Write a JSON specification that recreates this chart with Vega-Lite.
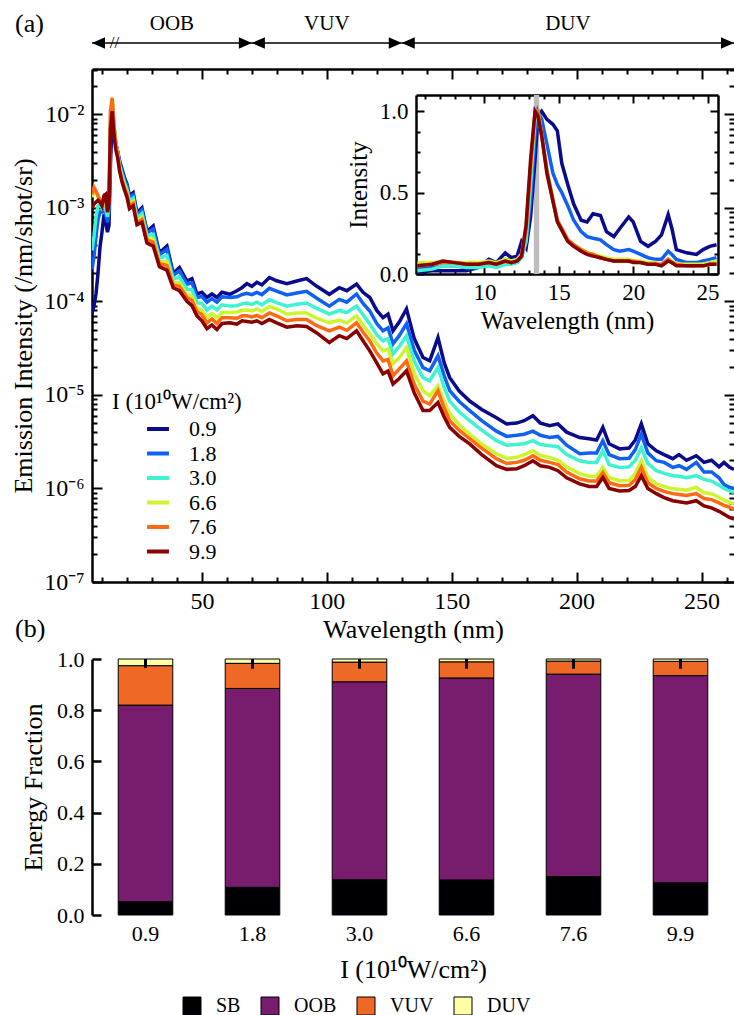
{
"$schema": "https://vega.github.io/schema/vega-lite/v6.json",
"padding": {"left": 10, "top": 11, "right": 0, "bottom": 3},
"config": {
 "font": "Liberation Serif",
 "view": {"stroke": null},
 "axis": {"grid": false, "domainColor": "black", "tickColor": "black", "labelColor": "black", "titleColor": "black", "titleFontWeight": "normal", "domainWidth": 2.5, "tickWidth": 2, "labelFontSize": 24, "titleFontSize": 26},
 "legend": {"labelColor": "black", "titleColor": "black", "titleFontWeight": "normal"},
 "title": {"color": "black", "fontWeight": "normal"}
},
"datasets": {
 "main": [
  {"w":6.0,"a":7.5e-5,"b":2.2e-4,"c":3.5e-4,"d":1.3e-3,"e":1.4e-3,"f":1.0e-3},
  {"w":6.8,"a":9.0e-5,"b":3.0e-4,"c":5.0e-4,"d":1.5e-3,"e":1.65e-3,"f":1.1e-3},
  {"w":7.6,"a":1.2e-4,"b":5.0e-4,"c":8.0e-4,"d":1.45e-3,"e":1.5e-3,"f":1.15e-3},
  {"w":8.4,"a":2.0e-4,"b":7.5e-4,"c":1.05e-3,"d":1.3e-3,"e":1.35e-3,"f":1.2e-3},
  {"w":9.2,"a":3.8e-4,"b":9.0e-4,"c":1.1e-3,"d":1.2e-3,"e":1.2e-3,"f":1.15e-3},
  {"w":10.0,"a":5.5e-4,"b":9.0e-4,"c":1.0e-3,"d":1.1e-3,"e":1.1e-3,"f":1.05e-3},
  {"w":10.8,"a":8.5e-4,"b":1.0e-3,"c":1.1e-3,"d":1.2e-3,"e":1.3e-3,"f":1.35e-3},
  {"w":11.5,"a":7.0e-4,"b":8.5e-4,"c":9.5e-4,"d":1.1e-3,"e":1.2e-3,"f":1.4e-3},
  {"w":12.2,"a":5.5e-4,"b":7.0e-4,"c":8.0e-4,"d":9.0e-4,"e":9.0e-4,"f":9.0e-4},
  {"w":12.8,"a":6.5e-4,"b":9.0e-4,"c":1.1e-3,"d":1.3e-3,"e":1.3e-3,"f":1.1e-3},
  {"w":13.4,"a":3.0e-3,"b":5.5e-3,"c":8.0e-3,"d":1.0e-2,"e":1.1e-2,"f":7.0e-3},
  {"w":14.1,"a":9.0e-3,"b":1.2e-2,"c":1.4e-2,"d":1.45e-2,"e":1.5e-2,"f":1.08e-2},
  {"w":14.8,"a":6.5e-3,"b":7.5e-3,"c":7.5e-3,"d":7.5e-3,"e":7.5e-3,"f":6.0e-3},
  {"w":15.5,"a":4.8e-3,"b":5.0e-3,"c":4.9e-3,"d":4.8e-3,"e":4.7e-3,"f":4.2e-3},
  {"w":16.3,"a":4.0e-3,"b":3.9e-3,"c":3.8e-3,"d":3.7e-3,"e":3.6e-3,"f":3.4e-3},
  {"w":17.0,"a":3.2e-3,"b":3.08e-3,"c":2.9e-3,"d":2.7e-3,"e":2.6e-3,"f":2.5e-3},
  {"w":18.0,"a":2.6e-3,"b":2.48e-3,"c":2.29e-3,"d":2.1e-3,"e":2.0e-3,"f":1.9e-3},
  {"w":19.0,"a":2.1e-3,"b":2.0e-3,"c":1.85e-3,"d":1.73e-3,"e":1.65e-3,"f":1.55e-3},
  {"w":20.0,"a":1.8e-3,"b":1.71e-3,"c":1.58e-3,"d":1.46e-3,"e":1.39e-3,"f":1.3e-3},
  {"w":21.0,"a":1.35e-3,"b":1.29e-3,"c":1.18e-3,"d":1.09e-3,"e":1.04e-3,"f":9.8e-4},
  {"w":22.5,"a":1.45e-3,"b":1.38e-3,"c":1.27e-3,"d":1.17e-3,"e":1.11e-3,"f":1.05e-3},
  {"w":24.0,"a":8.8e-4,"b":8.4e-4,"c":7.8e-4,"d":7.2e-4,"e":6.9e-4,"f":6.6e-4},
  {"w":26.0,"a":1.0e-3,"b":9.5e-4,"c":8.7e-4,"d":7.9e-4,"e":7.5e-4,"f":7.0e-4},
  {"w":28.0,"a":5.6e-4,"b":5.4e-4,"c":5.0e-4,"d":4.7e-4,"e":4.5e-4,"f":4.2e-4},
  {"w":30.5,"a":6.4e-4,"b":5.9e-4,"c":5.2e-4,"d":4.6e-4,"e":4.3e-4,"f":3.9e-4},
  {"w":33.0,"a":3.3e-4,"b":3.14e-4,"c":2.88e-4,"d":2.65e-4,"e":2.52e-4,"f":2.35e-4},
  {"w":36.0,"a":3.9e-4,"b":3.6e-4,"c":3.1e-4,"d":2.65e-4,"e":2.42e-4,"f":2.15e-4},
  {"w":38.5,"a":2.0e-4,"b":1.9e-4,"c":1.73e-4,"d":1.58e-4,"e":1.5e-4,"f":1.4e-4},
  {"w":41.0,"a":2.3e-4,"b":2.12e-4,"c":1.83e-4,"d":1.58e-4,"e":1.45e-4,"f":1.3e-4},
  {"w":44.0,"a":1.65e-4,"b":1.53e-4,"c":1.35e-4,"d":1.19e-4,"e":1.1e-4,"f":1.0e-4},
  {"w":46.0,"a":1.75e-4,"b":1.58e-4,"c":1.34e-4,"d":1.13e-4,"e":1.03e-4,"f":9.0e-5},
  {"w":48.0,"a":1.2e-4,"b":1.1e-4,"c":9.7e-5,"d":8.5e-5,"e":7.8e-5,"f":7.0e-5},
  {"w":50.0,"a":1.25e-4,"b":1.13e-4,"c":9.5e-5,"d":8.0e-5,"e":7.2e-5,"f":6.2e-5},
  {"w":52.0,"a":1.1e-4,"b":9.8e-5,"c":8.1e-5,"d":6.7e-5,"e":5.9e-5,"f":5.1e-5},
  {"w":54.0,"a":1.2e-4,"b":1.07e-4,"c":8.9e-5,"d":7.4e-5,"e":6.5e-5,"f":5.6e-5},
  {"w":56.0,"a":1.1e-4,"b":9.8e-5,"c":8.1e-5,"d":6.7e-5,"e":5.8e-5,"f":5.0e-5},
  {"w":58.0,"a":1.25e-4,"b":1.12e-4,"c":9.2e-5,"d":7.6e-5,"e":6.7e-5,"f":5.8e-5},
  {"w":61.2,"a":1.19e-4,"b":1.1e-4,"c":8.9e-5,"d":7.6e-5,"e":6.7e-5,"f":5.9e-5},
  {"w":64.0,"a":1.3e-4,"b":1.12e-4,"c":9.0e-5,"d":7.7e-5,"e":6.6e-5,"f":5.7e-5},
  {"w":66.0,"a":1.4e-4,"b":1.18e-4,"c":9.4e-5,"d":8.0e-5,"e":7.0e-5,"f":6.2e-5},
  {"w":68.0,"a":1.55e-4,"b":1.22e-4,"c":9.6e-5,"d":8.1e-5,"e":7.0e-5,"f":6.1e-5},
  {"w":70.0,"a":1.45e-4,"b":1.18e-4,"c":9.3e-5,"d":7.9e-5,"e":6.8e-5,"f":6.0e-5},
  {"w":72.0,"a":1.6e-4,"b":1.25e-4,"c":9.8e-5,"d":8.3e-5,"e":7.1e-5,"f":6.2e-5},
  {"w":74.0,"a":1.5e-4,"b":1.18e-4,"c":9.2e-5,"d":7.8e-5,"e":6.7e-5,"f":5.8e-5},
  {"w":77.0,"a":1.8e-4,"b":1.38e-4,"c":1.04e-4,"d":8.8e-5,"e":7.5e-5,"f":6.4e-5},
  {"w":79.9,"a":1.66e-4,"b":1.29e-4,"c":9.7e-5,"d":8.3e-5,"e":7.0e-5,"f":5.9e-5},
  {"w":84.0,"a":1.55e-4,"b":1.17e-4,"c":8.9e-5,"d":7.3e-5,"e":6.2e-5,"f":5.3e-5},
  {"w":88.0,"a":1.65e-4,"b":1.23e-4,"c":9.3e-5,"d":7.5e-5,"e":6.4e-5,"f":5.5e-5},
  {"w":91.9,"a":1.75e-4,"b":1.28e-4,"c":9.6e-5,"d":7.5e-5,"e":6.4e-5,"f":5.4e-5},
  {"w":96.0,"a":1.45e-4,"b":1.08e-4,"c":8.4e-5,"d":6.6e-5,"e":5.5e-5,"f":4.6e-5},
  {"w":101.0,"a":1.19e-4,"b":8.9e-5,"c":7.3e-5,"d":5.9e-5,"e":4.84e-5,"f":3.63e-5},
  {"w":105.0,"a":1.4e-4,"b":1.05e-4,"c":8.0e-5,"d":6.3e-5,"e":5.3e-5,"f":4.3e-5},
  {"w":108.0,"a":1.3e-4,"b":9.8e-5,"c":7.6e-5,"d":5.9e-5,"e":4.9e-5,"f":4.0e-5},
  {"w":111.9,"a":1.53e-4,"b":1.2e-4,"c":8.9e-5,"d":7.0e-5,"e":5.9e-5,"f":4.84e-5},
  {"w":114.5,"a":1.25e-4,"b":9.5e-5,"c":7.2e-5,"d":5.6e-5,"e":4.7e-5,"f":3.8e-5},
  {"w":117.2,"a":1.1e-4,"b":7.9e-5,"c":5.75e-5,"d":4.5e-5,"e":3.78e-5,"f":2.96e-5},
  {"w":120.0,"a":8.0e-5,"b":5.8e-5,"c":4.4e-5,"d":3.5e-5,"e":2.8e-5,"f":2.2e-5},
  {"w":122.5,"a":6.7e-5,"b":4.84e-5,"c":3.78e-5,"d":2.96e-5,"e":2.31e-5,"f":1.68e-5},
  {"w":124.5,"a":7.3e-5,"b":5.2e-5,"c":4.0e-5,"d":3.1e-5,"e":2.4e-5,"f":1.8e-5},
  {"w":126.5,"a":4.84e-5,"b":3.52e-5,"c":2.75e-5,"d":2.15e-5,"e":1.6e-5,"f":1.31e-5},
  {"w":129.0,"a":6.0e-5,"b":4.3e-5,"c":3.3e-5,"d":2.5e-5,"e":1.9e-5,"f":1.5e-5},
  {"w":131.9,"a":8.3e-5,"b":5.75e-5,"c":4.28e-5,"d":3.21e-5,"e":2.31e-5,"f":1.81e-5},
  {"w":135.0,"a":4.0e-5,"b":3.0e-5,"c":2.3e-5,"d":1.7e-5,"e":1.3e-5,"f":1.05e-5},
  {"w":138.5,"a":2.51e-5,"b":1.96e-5,"c":1.53e-5,"d":1.11e-5,"e":8.6e-6,"f":6.8e-6},
  {"w":141.2,"a":2.31e-5,"b":1.81e-5,"c":1.42e-5,"d":9.8e-6,"e":8.0e-6,"f":6.8e-6},
  {"w":144.5,"a":4.1e-5,"b":2.62e-5,"c":1.96e-5,"d":1.25e-5,"e":1.11e-5,"f":8.3e-6},
  {"w":147.0,"a":2.2e-5,"b":1.6e-5,"c":1.2e-5,"d":8.5e-6,"e":7.2e-6,"f":5.8e-6},
  {"w":149.2,"a":1.53e-5,"b":1.11e-5,"c":8.6e-6,"d":6.3e-6,"e":5.3e-6,"f":4.5e-6},
  {"w":153.0,"a":1.1e-5,"b":8.5e-6,"c":6.6e-6,"d":4.8e-6,"e":4.2e-6,"f":3.6e-6},
  {"w":157.2,"a":8.6e-6,"b":6.8e-6,"c":5.3e-6,"d":3.8e-6,"e":3.4e-6,"f":3.0e-6},
  {"w":162.0,"a":7.0e-6,"b":5.3e-6,"c":4.2e-6,"d":3.0e-6,"e":2.7e-6,"f":2.3e-6},
  {"w":167.9,"a":5.7e-6,"b":4.1e-6,"c":3.24e-6,"d":2.35e-6,"e":2.08e-6,"f":1.75e-6},
  {"w":172.0,"a":4.9e-6,"b":3.6e-6,"c":2.9e-6,"d":2.1e-6,"e":1.85e-6,"f":1.6e-6},
  {"w":176.0,"a":5.0e-6,"b":3.7e-6,"c":2.95e-6,"d":2.15e-6,"e":1.9e-6,"f":1.62e-6},
  {"w":179.0,"a":5.3e-6,"b":3.8e-6,"c":3.0e-6,"d":2.3e-6,"e":2.0e-6,"f":1.75e-6},
  {"w":182.5,"a":6.0e-6,"b":4.1e-6,"c":3.24e-6,"d":2.53e-6,"e":2.24e-6,"f":1.98e-6},
  {"w":185.5,"a":5.0e-6,"b":3.7e-6,"c":2.95e-6,"d":2.25e-6,"e":2.0e-6,"f":1.75e-6},
  {"w":189.2,"a":4.7e-6,"b":3.5e-6,"c":2.86e-6,"d":2.14e-6,"e":1.9e-6,"f":1.68e-6},
  {"w":192.5,"a":4.9e-6,"b":3.6e-6,"c":2.8e-6,"d":2.0e-6,"e":1.8e-6,"f":1.55e-6},
  {"w":196.0,"a":4.0e-6,"b":2.9e-6,"c":2.3e-6,"d":1.7e-6,"e":1.5e-6,"f":1.3e-6},
  {"w":201.2,"a":3.5e-6,"b":2.35e-6,"c":1.98e-6,"d":1.44e-6,"e":1.27e-6,"f":1.12e-6},
  {"w":205.0,"a":3.4e-6,"b":2.4e-6,"c":1.9e-6,"d":1.35e-6,"e":1.2e-6,"f":1.05e-6},
  {"w":208.0,"a":3.3e-6,"b":2.4e-6,"c":1.9e-6,"d":1.35e-6,"e":1.2e-6,"f":1.05e-6},
  {"w":210.5,"a":4.5e-6,"b":3.24e-6,"c":2.53e-6,"d":1.68e-6,"e":1.48e-6,"f":1.31e-6},
  {"w":213.0,"a":3.0e-6,"b":2.3e-6,"c":1.8e-6,"d":1.3e-6,"e":1.15e-6,"f":1.0e-6},
  {"w":217.2,"a":2.65e-6,"b":2.08e-6,"c":1.68e-6,"d":1.21e-6,"e":1.07e-6,"f":9.4e-7},
  {"w":221.0,"a":2.7e-6,"b":2.1e-6,"c":1.7e-6,"d":1.22e-6,"e":1.08e-6,"f":9.5e-7},
  {"w":223.5,"a":3.3e-6,"b":2.6e-6,"c":2.0e-6,"d":1.45e-6,"e":1.25e-6,"f":1.05e-6},
  {"w":225.9,"a":4.9e-6,"b":3.8e-6,"c":2.74e-6,"d":1.98e-6,"e":1.68e-6,"f":1.37e-6},
  {"w":228.5,"a":3.0e-6,"b":2.4e-6,"c":1.85e-6,"d":1.32e-6,"e":1.15e-6,"f":1.0e-6},
  {"w":231.9,"a":2.53e-6,"b":1.98e-6,"c":1.55e-6,"d":1.12e-6,"e":1.0e-6,"f":8.8e-7},
  {"w":235.0,"a":2.3e-6,"b":1.9e-6,"c":1.45e-6,"d":1.05e-6,"e":9.3e-7,"f":8.0e-7},
  {"w":238.5,"a":2.08e-6,"b":1.68e-6,"c":1.37e-6,"d":9.9e-7,"e":8.8e-7,"f":7.4e-7},
  {"w":241.0,"a":2.3e-6,"b":1.75e-6,"c":1.35e-6,"d":9.8e-7,"e":8.6e-7,"f":7.2e-7},
  {"w":244.0,"a":2.0e-6,"b":1.6e-6,"c":1.3e-6,"d":9.6e-7,"e":8.4e-7,"f":7.0e-7},
  {"w":247.9,"a":2.24e-6,"b":1.9e-6,"c":1.37e-6,"d":1.03e-6,"e":8.8e-7,"f":7.4e-7},
  {"w":251.0,"a":1.9e-6,"b":1.5e-6,"c":1.25e-6,"d":9.0e-7,"e":7.8e-7,"f":6.5e-7},
  {"w":254.0,"a":2.0e-6,"b":1.5e-6,"c":1.2e-6,"d":8.8e-7,"e":7.6e-7,"f":6.2e-7},
  {"w":257.0,"a":1.7e-6,"b":1.3e-6,"c":1.08e-6,"d":8.0e-7,"e":7.0e-7,"f":5.7e-7},
  {"w":259.0,"a":1.9e-6,"b":1.1e-6,"c":1.0e-6,"d":7.5e-7,"e":6.6e-7,"f":5.3e-7},
  {"w":261.2,"a":1.68e-6,"b":1.03e-6,"c":9.4e-7,"d":7.1e-7,"e":6.3e-7,"f":4.9e-7},
  {"w":263.0,"a":1.6e-6,"b":1.0e-6,"c":9.0e-7,"d":6.9e-7,"e":6.0e-7,"f":4.7e-7}
 ],
 "inset": [
  {"w":5.5,"a":0.01,"b":0.03,"c":0.02,"d":0.07,"e":0.05,"f":0.05},
  {"w":6.5,"a":0.02,"b":0.04,"c":0.03,"d":0.07,"e":0.06,"f":0.06},
  {"w":7.2,"a":0.02,"b":0.05,"c":0.05,"d":0.08,"e":0.07,"f":0.08},
  {"w":8.0,"a":0.02,"b":0.05,"c":0.05,"d":0.07,"e":0.07,"f":0.07},
  {"w":8.8,"a":0.02,"b":0.04,"c":0.04,"d":0.07,"e":0.06,"f":0.06},
  {"w":9.6,"a":0.04,"b":0.05,"c":0.04,"d":0.07,"e":0.06,"f":0.06},
  {"w":10.3,"a":0.09,"b":0.07,"c":0.05,"d":0.08,"e":0.07,"f":0.07},
  {"w":10.8,"a":0.07,"b":0.06,"c":0.04,"d":0.07,"e":0.06,"f":0.06},
  {"w":11.4,"a":0.13,"b":0.09,"c":0.06,"d":0.09,"e":0.08,"f":0.08},
  {"w":11.8,"a":0.10,"b":0.08,"c":0.06,"d":0.08,"e":0.07,"f":0.07},
  {"w":12.2,"a":0.11,"b":0.09,"c":0.07,"d":0.09,"e":0.08,"f":0.08},
  {"w":12.5,"a":0.20,"b":0.13,"c":0.10,"d":0.12,"e":0.11,"f":0.11},
  {"w":12.8,"a":0.16,"b":0.20,"c":0.20,"d":0.30,"e":0.28,"f":0.30},
  {"w":13.1,"a":0.35,"b":0.45,"c":0.55,"d":0.65,"e":0.65,"f":0.70},
  {"w":13.4,"a":0.70,"b":0.85,"c":0.95,"d":0.98,"e":0.99,"f":1.0},
  {"w":13.6,"a":0.97,"b":1.0,"c":1.0,"d":1.0,"e":1.0,"f":0.97},
  {"w":13.85,"a":1.0,"b":0.95,"c":0.85,"d":0.85,"e":0.85,"f":0.85},
  {"w":14.2,"a":0.95,"b":0.80,"c":0.65,"d":0.62,"e":0.63,"f":0.62},
  {"w":14.6,"a":0.92,"b":0.62,"c":0.45,"d":0.45,"e":0.46,"f":0.45},
  {"w":14.9,"a":0.88,"b":0.55,"c":0.33,"d":0.33,"e":0.33,"f":0.32},
  {"w":15.2,"a":0.68,"b":0.50,"c":0.27,"d":0.27,"e":0.28,"f":0.27},
  {"w":15.6,"a":0.55,"b":0.42,"c":0.21,"d":0.21,"e":0.21,"f":0.20},
  {"w":16.0,"a":0.43,"b":0.33,"c":0.18,"d":0.18,"e":0.18,"f":0.17},
  {"w":16.5,"a":0.33,"b":0.26,"c":0.15,"d":0.15,"e":0.15,"f":0.14},
  {"w":16.9,"a":0.32,"b":0.23,"c":0.13,"d":0.13,"e":0.13,"f":0.12},
  {"w":17.3,"a":0.37,"b":0.22,"c":0.12,"d":0.12,"e":0.12,"f":0.11},
  {"w":17.8,"a":0.36,"b":0.21,"c":0.10,"d":0.11,"e":0.10,"f":0.10},
  {"w":18.2,"a":0.26,"b":0.18,"c":0.09,"d":0.10,"e":0.09,"f":0.09},
  {"w":18.7,"a":0.23,"b":0.15,"c":0.08,"d":0.09,"e":0.08,"f":0.08},
  {"w":19.1,"a":0.28,"b":0.14,"c":0.08,"d":0.09,"e":0.08,"f":0.08},
  {"w":19.7,"a":0.35,"b":0.15,"c":0.08,"d":0.09,"e":0.08,"f":0.08},
  {"w":20.0,"a":0.32,"b":0.14,"c":0.08,"d":0.08,"e":0.08,"f":0.07},
  {"w":20.5,"a":0.20,"b":0.12,"c":0.07,"d":0.08,"e":0.07,"f":0.07},
  {"w":21.0,"a":0.17,"b":0.10,"c":0.06,"d":0.07,"e":0.06,"f":0.06},
  {"w":21.5,"a":0.20,"b":0.09,"c":0.06,"d":0.07,"e":0.06,"f":0.06},
  {"w":21.9,"a":0.24,"b":0.09,"c":0.06,"d":0.06,"e":0.06,"f":0.05},
  {"w":22.35,"a":0.365,"b":0.14,"c":0.09,"d":0.09,"e":0.09,"f":0.08},
  {"w":22.6,"a":0.28,"b":0.12,"c":0.08,"d":0.08,"e":0.07,"f":0.07},
  {"w":22.9,"a":0.15,"b":0.09,"c":0.06,"d":0.06,"e":0.06,"f":0.05},
  {"w":23.6,"a":0.13,"b":0.07,"c":0.05,"d":0.06,"e":0.05,"f":0.05},
  {"w":24.25,"a":0.12,"b":0.07,"c":0.05,"d":0.06,"e":0.05,"f":0.05},
  {"w":24.7,"a":0.15,"b":0.08,"c":0.06,"d":0.06,"e":0.05,"f":0.05},
  {"w":25.15,"a":0.17,"b":0.09,"c":0.07,"d":0.07,"e":0.06,"f":0.06},
  {"w":25.6,"a":0.18,"b":0.10,"c":0.08,"d":0.08,"e":0.06,"f":0.06}
 ],
 "regions": [
  {"r":"OOB","s":6,"e":70,"m":38},
  {"r":"VUV","s":70,"e":130,"m":100},
  {"r":"DUV","s":130,"e":263,"m":196.5}
 ],
 "bars": [
  {"I":"0.9","c":"SB","f":0.052,"k":1},{"I":"0.9","c":"OOB","f":0.768,"k":2},{"I":"0.9","c":"VUV","f":0.154,"k":3},{"I":"0.9","c":"DUV","f":0.026,"k":4},
  {"I":"1.8","c":"SB","f":0.108,"k":1},{"I":"1.8","c":"OOB","f":0.777,"k":2},{"I":"1.8","c":"VUV","f":0.098,"k":3},{"I":"1.8","c":"DUV","f":0.017,"k":4},
  {"I":"3.0","c":"SB","f":0.138,"k":1},{"I":"3.0","c":"OOB","f":0.773,"k":2},{"I":"3.0","c":"VUV","f":0.077,"k":3},{"I":"3.0","c":"DUV","f":0.012,"k":4},
  {"I":"6.6","c":"SB","f":0.137,"k":1},{"I":"6.6","c":"OOB","f":0.789,"k":2},{"I":"6.6","c":"VUV","f":0.063,"k":3},{"I":"6.6","c":"DUV","f":0.011,"k":4},
  {"I":"7.6","c":"SB","f":0.150,"k":1},{"I":"7.6","c":"OOB","f":0.791,"k":2},{"I":"7.6","c":"VUV","f":0.051,"k":3},{"I":"7.6","c":"DUV","f":0.008,"k":4},
  {"I":"9.9","c":"SB","f":0.126,"k":1},{"I":"9.9","c":"OOB","f":0.809,"k":2},{"I":"9.9","c":"VUV","f":0.056,"k":3},{"I":"9.9","c":"DUV","f":0.009,"k":4}
 ],
 "err": [
  {"I":"0.9","lo":0.965,"hi":1.0},{"I":"1.8","lo":0.962,"hi":1.0},{"I":"3.0","lo":0.962,"hi":1.0},
  {"I":"6.6","lo":0.962,"hi":1.0},{"I":"7.6","lo":0.962,"hi":1.0},{"I":"9.9","lo":0.962,"hi":1.0}
 ]
},
"vconcat": [
 {
  "width": 642, "height": 20,
  "title": {"text": "(a)", "anchor": "start", "frame": "group", "dx": -77, "offset": -24, "fontSize": 26, "fontWeight": "normal"},
  "data": {"name": "regions"},
  "layer": [
   {"mark": {"type": "rule", "color": "black", "strokeWidth": 1.5},
    "encoding": {"x": {"field": "s", "type": "quantitative", "scale": {"domain": [6, 263], "nice": false, "zero": false}, "axis": null}, "x2": {"field": "e"}}},
   {"mark": {"type": "point", "shape": "M0,0L-2,-0.9L-2,0.9Z", "filled": true, "color": "black", "size": 169, "opacity": 1},
    "encoding": {"x": {"field": "e", "type": "quantitative", "scale": {"domain": [6, 263], "nice": false, "zero": false}, "axis": null}}},
   {"mark": {"type": "point", "shape": "M0,0L2,-0.9L2,0.9Z", "filled": true, "color": "black", "size": 169, "opacity": 1},
    "encoding": {"x": {"field": "s", "type": "quantitative", "scale": {"domain": [6, 263], "nice": false, "zero": false}, "axis": null}}},
   {"mark": {"type": "text", "dy": -19, "fontSize": 21, "color": "black"},
    "encoding": {"x": {"field": "m", "type": "quantitative", "scale": {"domain": [6, 263], "nice": false, "zero": false}, "axis": null}, "text": {"field": "r"}}},
   {"data": {"values": [{"w": 15, "t": "//"}]},
    "mark": {"type": "text", "fontSize": 17, "color": "black"},
    "encoding": {"x": {"field": "w", "type": "quantitative", "scale": {"domain": [6, 263], "nice": false, "zero": false}, "axis": null}, "text": {"field": "t"}}}
  ]
 },
 {
  "width": 642, "height": 513,
  "layer": [
   {
    "layer": [
     {
      "data": {"name": "main"},
      "transform": [{"fold": ["a", "b", "c", "d", "e", "f"], "as": ["I", "v"]}],
      "mark": {"type": "line", "strokeWidth": 3.5, "clip": true},
      "encoding": {
       "x": {"field": "w", "type": "quantitative", "scale": {"domain": [6, 263], "nice": false, "zero": false},
             "axis": {"orient": "bottom", "values": [50, 100, 150, 200, 250], "tickSize": -10, "labelPadding": 17, "title": "Wavelength (nm)", "titlePadding": 3}},
       "y": {"field": "v", "type": "quantitative", "scale": {"type": "log", "domain": [1e-7, 0.0305], "nice": false},
             "axis": {"orient": "left", "values": [1e-7, 1e-6, 1e-5, 1e-4, 1e-3, 1e-2], "tickSize": -10, "labelPadding": 18,
                      "labelExpr": "'10⁻' + ['⁰','¹','²','³','⁴','⁵','⁶','⁷','⁸','⁹'][round(-log(datum.value)/LN10)]",
                      "title": "Emission Intensity (/nm/shot/sr)", "titlePadding": 7}},
       "color": {"field": "I", "type": "nominal",
                 "scale": {"domain": ["a", "b", "c", "d", "e", "f"], "range": ["#0a0a8c", "#1060f5", "#3ff2d2", "#ccf52e", "#ff6a12", "#880000"]},
                 "legend": {"orient": "none", "legendX": 20, "legendY": 322, "title": "I (10¹⁰W/cm²)", "titleFontSize": 23, "titlePadding": 2,
                            "labelFontSize": 22, "symbolType": "stroke", "symbolStrokeWidth": 4, "symbolSize": 480, "symbolOffset": 33,
                            "labelOffset": 18, "rowPadding": 0.5,
                            "labelExpr": "['0.9','1.8','3.0','6.6','7.6','9.9'][indexof('abcdef', datum.label)]"}}
      }
     },
     {
      "data": {"values": [{"w": 100, "v": 0.0001}]},
      "mark": {"type": "point", "opacity": 0},
      "encoding": {
       "x": {"field": "w", "type": "quantitative", "scale": {"domain": [6, 263], "nice": false, "zero": false},
             "axis": {"orient": "bottom", "values": [10, 20, 30, 40, 60, 70, 80, 90, 110, 120, 130, 140, 160, 170, 180, 190, 210, 220, 230, 240, 260], "tickSize": -5, "labels": false, "domain": false, "title": null}},
       "y": {"field": "v", "type": "quantitative", "scale": {"type": "log", "domain": [1e-7, 0.0305], "nice": false},
             "axis": {"orient": "left", "values": [2e-7,3e-7,4e-7,5e-7,6e-7,7e-7,8e-7,9e-7,2e-6,3e-6,4e-6,5e-6,6e-6,7e-6,8e-6,9e-6,2e-5,3e-5,4e-5,5e-5,6e-5,7e-5,8e-5,9e-5,2e-4,3e-4,4e-4,5e-4,6e-4,7e-4,8e-4,9e-4,2e-3,3e-3,4e-3,5e-3,6e-3,7e-3,8e-3,9e-3,2e-2,3e-2], "tickSize": -5, "labels": false, "domain": false, "title": null}}
      }
     },
     {
      "data": {"values": [{"w": 100, "v": 0.0001}]},
      "mark": {"type": "point", "opacity": 0},
      "encoding": {
       "x": {"field": "w", "type": "quantitative", "scale": {"domain": [6, 263], "nice": false, "zero": false},
             "axis": {"orient": "top", "values": [50, 100, 150, 200, 250], "tickSize": -10, "labels": false, "title": null}},
       "y": {"field": "v", "type": "quantitative", "scale": {"type": "log", "domain": [1e-7, 0.0305], "nice": false},
             "axis": {"orient": "right", "values": [1e-7, 1e-6, 1e-5, 1e-4, 1e-3, 1e-2], "tickSize": -10, "labels": false, "domain": false, "title": null}}
      }
     },
     {
      "data": {"values": [{"w": 100, "v": 0.0001}]},
      "mark": {"type": "point", "opacity": 0},
      "encoding": {
       "x": {"field": "w", "type": "quantitative", "scale": {"domain": [6, 263], "nice": false, "zero": false},
             "axis": {"orient": "top", "values": [10, 20, 30, 40, 60, 70, 80, 90, 110, 120, 130, 140, 160, 170, 180, 190, 210, 220, 230, 240, 260], "tickSize": -5, "labels": false, "domain": false, "title": null}},
       "y": {"field": "v", "type": "quantitative", "scale": {"type": "log", "domain": [1e-7, 0.0305], "nice": false},
             "axis": {"orient": "right", "values": [2e-7,3e-7,4e-7,5e-7,6e-7,7e-7,8e-7,9e-7,2e-6,3e-6,4e-6,5e-6,6e-6,7e-6,8e-6,9e-6,2e-5,3e-5,4e-5,5e-5,6e-5,7e-5,8e-5,9e-5,2e-4,3e-4,4e-4,5e-4,6e-4,7e-4,8e-4,9e-4,2e-3,3e-3,4e-3,5e-3,6e-3,7e-3,8e-3,9e-3,2e-2,3e-2], "tickSize": -5, "labels": false, "domain": false, "title": null}}
      }
     }
    ],
    "resolve": {"axis": {"x": "independent", "y": "independent"}}
   },
   {
    "layer": [
     {
      "data": {"values": [{"lo": 13.32, "hi": 13.68}]},
      "mark": {"type": "rect", "color": "#bdbdbd"},
      "encoding": {
       "x": {"field": "lo", "type": "quantitative", "scale": {"domain": [5.4, 25.7], "range": [324, 626], "nice": false, "zero": false}, "axis": null},
       "x2": {"field": "hi"},
       "y": {"datum": 0, "type": "quantitative", "scale": {"domain": [0, 1.1], "range": [205, 26], "nice": false, "zero": false}, "axis": null},
       "y2": {"datum": 1.1}
      }
     },
     {
      "data": {"name": "inset"},
      "transform": [{"fold": ["a", "b", "c", "d", "e", "f"], "as": ["I", "v"]}],
      "mark": {"type": "line", "strokeWidth": 3.5, "clip": false},
      "encoding": {
       "x": {"field": "w", "type": "quantitative", "scale": {"domain": [5.4, 25.7], "range": [324, 626], "nice": false, "zero": false},
             "axis": {"orient": "bottom", "offset": -308, "values": [10, 15, 20, 25], "tickSize": -8, "labelPadding": 15, "labelFontSize": 23, "title": "Wavelength (nm)", "titleFontSize": 25, "titlePadding": 4}},
       "y": {"field": "v", "type": "quantitative", "scale": {"domain": [0, 1.1], "range": [205, 26], "nice": false, "zero": false},
             "axis": {"orient": "left", "offset": -324, "values": [0, 0.5, 1], "format": ".1f", "tickSize": -8, "labelPadding": 16, "labelFontSize": 23, "title": "Intensity", "titleFontSize": 25, "titlePadding": 8}},
       "color": {"field": "I", "type": "nominal", "legend": null,
                 "scale": {"domain": ["a", "b", "c", "d", "e", "f"], "range": ["#0a0a8c", "#1060f5", "#3ff2d2", "#ccf52e", "#ff6a12", "#880000"]}}
      }
     },
     {
      "data": {"values": [{"w": 10, "v": 0.5}]},
      "mark": {"type": "point", "opacity": 0},
      "encoding": {
       "x": {"field": "w", "type": "quantitative", "scale": {"domain": [5.4, 25.7], "range": [324, 626], "nice": false, "zero": false},
             "axis": {"orient": "bottom", "offset": -308, "values": [6,7,8,9,11,12,13,14,16,17,18,19,21,22,23,24], "tickSize": -4, "labels": false, "domain": false, "title": null}},
       "y": {"field": "v", "type": "quantitative", "scale": {"domain": [0, 1.1], "range": [205, 26], "nice": false, "zero": false},
             "axis": {"orient": "left", "offset": -324, "values": [0.125, 0.25, 0.375, 0.625, 0.75, 0.875], "tickSize": -4, "labels": false, "domain": false, "title": null}}
      }
     },
     {
      "data": {"values": [{"w": 10, "v": 0.5}]},
      "mark": {"type": "point", "opacity": 0},
      "encoding": {
       "x": {"field": "w", "type": "quantitative", "scale": {"domain": [5.4, 25.7], "range": [324, 626], "nice": false, "zero": false},
             "axis": {"orient": "top", "offset": -26, "values": [10, 15, 20, 25], "tickSize": -8, "labels": false, "title": null}},
       "y": {"field": "v", "type": "quantitative", "scale": {"domain": [0, 1.1], "range": [205, 26], "nice": false, "zero": false},
             "axis": {"orient": "right", "offset": -16, "values": [0, 0.5, 1], "tickSize": -8, "labels": false, "title": null}}
      }
     },
     {
      "data": {"values": [{"w": 10, "v": 0.5}]},
      "mark": {"type": "point", "opacity": 0},
      "encoding": {
       "x": {"field": "w", "type": "quantitative", "scale": {"domain": [5.4, 25.7], "range": [324, 626], "nice": false, "zero": false},
             "axis": {"orient": "top", "offset": -26, "values": [6,7,8,9,11,12,13,14,16,17,18,19,21,22,23,24], "tickSize": -4, "labels": false, "domain": false, "title": null}},
       "y": {"field": "v", "type": "quantitative", "scale": {"domain": [0, 1.1], "range": [205, 26], "nice": false, "zero": false},
             "axis": {"orient": "right", "offset": -16, "values": [0.125, 0.25, 0.375, 0.625, 0.75, 0.875], "tickSize": -4, "labels": false, "domain": false, "title": null}}
      }
     }
    ],
    "resolve": {"axis": {"x": "independent", "y": "independent"}}
   }
  ],
  "resolve": {"scale": {"x": "independent", "y": "independent"}, "axis": {"x": "independent", "y": "independent"}}
 },
 {
  "width": 642, "height": 45,
  "data": {"values": [{"z": 1}]},
  "mark": {"type": "point", "opacity": 0},
  "encoding": {}
 },
 {
  "width": 642, "height": 256,
  "title": {"text": "(b)", "anchor": "start", "frame": "group", "dx": -77, "offset": 6, "fontSize": 26, "fontWeight": "normal"},
  "layer": [
   {
    "data": {"name": "bars"},
    "mark": {"type": "bar", "stroke": "black", "strokeWidth": 1},
    "encoding": {
     "x": {"field": "I", "type": "nominal", "sort": ["0.9", "1.8", "3.0", "6.6", "7.6", "9.9"], "scale": {"paddingInner": 0.49, "paddingOuter": 0.245},
           "axis": {"title": "I (10¹⁰W/cm²)", "labelAngle": 0, "domain": false, "ticks": false, "labelPadding": 8, "labelFontSize": 22, "titlePadding": 12}},
     "y": {"field": "f", "type": "quantitative", "stack": "zero", "scale": {"domain": [0, 1], "nice": false},
           "axis": {"values": [0, 0.2, 0.4, 0.6, 0.8, 1], "format": ".1f", "tickSize": -9, "tickWidth": 2.5, "labelPadding": 17, "labelFontSize": 22, "title": "Energy Fraction", "titlePadding": 10}},
     "color": {"field": "c", "type": "nominal", "scale": {"domain": ["SB", "OOB", "VUV", "DUV"], "range": ["#000004", "#781c6d", "#ed6925", "#fcffa4"]},
               "legend": {"orient": "none", "legendX": 90, "legendY": 337, "direction": "horizontal", "title": null, "symbolType": "square", "symbolSize": 324, "symbolStrokeColor": "black", "symbolStrokeWidth": 1, "labelFontSize": 20, "columnPadding": 18, "labelOffset": 14}},
     "order": {"field": "k", "type": "quantitative"}
    }
   },
   {
    "data": {"name": "err"},
    "mark": {"type": "rule", "color": "black", "strokeWidth": 3},
    "encoding": {
     "x": {"field": "I", "type": "nominal", "sort": ["0.9", "1.8", "3.0", "6.6", "7.6", "9.9"]},
     "y": {"field": "lo", "type": "quantitative"},
     "y2": {"field": "hi"}
    }
   }
  ]
 }
],
"spacing": 16,
"bounds": "flush",
"resolve": {"scale": {"color": "independent"}, "legend": {"color": "independent"}}
}
